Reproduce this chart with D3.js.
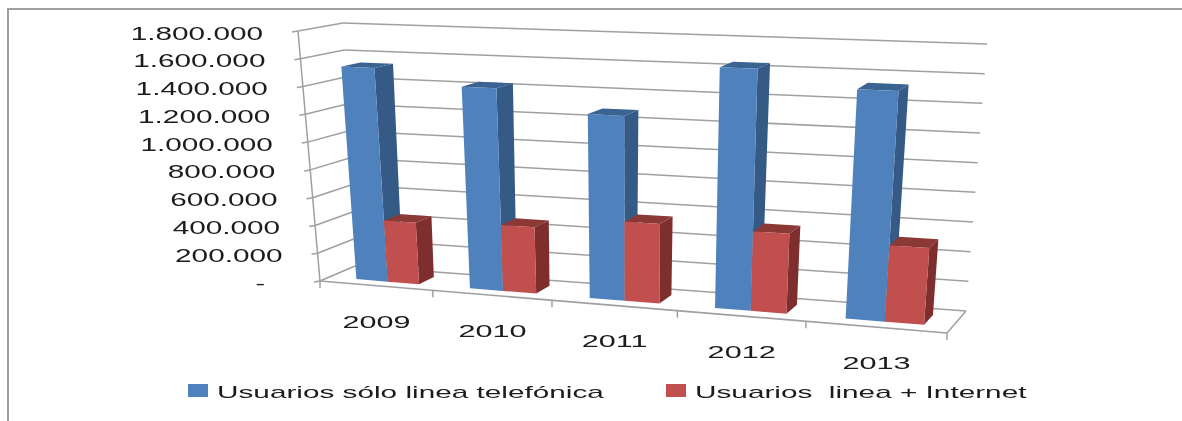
<!DOCTYPE html>
<html>
<head>
<meta charset="utf-8">
<script src="https://cdn.jsdelivr.net/npm/d3@7"></script>
<style>
  html, body { margin: 0; padding: 0; background: #fff; }
  svg { display: block; }
  text { font-family: "Liberation Sans", sans-serif; fill: #1a1a1a; white-space: pre; }
</style>
</head>
<body>
<div id="chart"></div>
<script>
// values
var years = ["2009", "2010", "2011", "2012", "2013"]
var soloLinea = [1535000, 1430000, 1280000, 1645000, 1537000]
var lineaInternet = [440000, 465000, 548000, 540000, 508000]
var yTicks = [0, 200000, 400000, 600000, 800000, 1000000, 1200000, 1400000, 1600000, 1800000]
var seriesNames = ["Usuarios sólo linea telefónica", "Usuarios  linea + Internet"]

var w = 1182
var h = 421

// 3d box of the plot, screen position of its corners [bottom, top]
var frontLeft = [[320, 281], [298, 31]]
var frontRight = [[947, 333], [967, 58]]
var backLeft = [[355, 266], [343, 23]]
var backRight = [[966, 311], [987, 44]]

var colors = [
    { front: "#4f81bd", side: "#355a85", top: "#3a6392" },
    { front: "#c0504d", side: "#7f2f2d", top: "#8c3836" }
]

var locale = d3.formatLocale({ decimal: ",", thousands: ".", grouping: [3], currency: ["", ""] })
var fmt = locale.format(",d")

var yScale = d3.scaleLinear().domain([0, 1800000]).range([0, 1])

// categories get wider towards the viewer
var xScale = d3.scaleLinear()
    .domain([0, 1, 2, 3, 4, 5])
    .range([0, 0.18, 0.37, 0.57, 0.775, 1])

var mix = d3.interpolateArray

function project(t, z, v) {
    var k = yScale(v)
    var fl = mix(frontLeft[0], frontLeft[1])(k)
    var fr = mix(frontRight[0], frontRight[1])(k)
    var bl = mix(backLeft[0], backLeft[1])(k)
    var br = mix(backRight[0], backRight[1])(k)
    return mix(mix(fl, fr)(t), mix(bl, br)(t))(z)
}

var svg = d3.select("#chart").append("svg")
    .attr("width", w)
    .attr("height", h)

var defs = svg.append("defs")
defs.append("filter").attr("id", "soft")
    .attr("x", "-5%").attr("y", "-5%").attr("width", "110%").attr("height", "110%")
    .append("feGaussianBlur").attr("stdDeviation", 0.7)
defs.append("filter").attr("id", "softText")
    .attr("x", "-5%").attr("y", "-5%").attr("width", "110%").attr("height", "110%")
    .append("feGaussianBlur").attr("stdDeviation", 0.35)

// outer frame, only top and left are visible
svg.append("path")
    .attr("d", d3.line()([[8, h], [8, 9], [w, 9]]))
    .attr("fill", "none")
    .attr("stroke", "#a0a0a0")
    .attr("stroke-width", 2)

var plot = svg.append("g").attr("filter", "url(#soft)")
var texts = svg.append("g").attr("filter", "url(#softText)")
var line = d3.line()

function seg(a, b, width) {
    plot.append("path")
        .attr("d", line([a, b]))
        .attr("fill", "none")
        .attr("stroke", "#a0a0a0")
        .attr("stroke-width", width || 1.5)
}

// grid on the two walls
yTicks.forEach(function (v) {
    var p = project(0, 0, v)
    seg([p[0] - 6, p[1] + 1], p)
    seg(p, project(0, 1, v))
    seg(project(0, 1, v), project(1, 1, v))
})
seg(project(0, 0, 0), project(0, 0, 1800000))
seg(project(0, 0, 0), project(1, 0, 0), 1.7)
seg(project(1, 0, 0), project(1, 1, 0))

// category ticks on the front edge
d3.range(years.length + 1).forEach(function (i) {
    var p = project(xScale(i), 0, 0)
    seg(p, [p[0], p[1] + 7])
})

// bars
var z0 = 0.27
var z1 = 0.72
var barStart = 0.24
var barStep = 0.28

function poly(pts, fill) {
    plot.append("path")
        .attr("d", line(pts) + "Z")
        .attr("fill", fill)
}

function bar(i, s, v) {
    var a = i + barStart + s * barStep
    var b = a + barStep
    var ta = xScale(a)
    var tb = xScale(b)
    var c = colors[s]
    poly([project(ta, z0, v), project(tb, z0, v), project(tb, z1, v), project(ta, z1, v)], c.top)
    poly([project(tb, z0, 0), project(tb, z1, 0), project(tb, z1, v), project(tb, z0, v)], c.side)
    poly([project(ta, z0, 0), project(tb, z0, 0), project(tb, z0, v), project(ta, z0, v)], c.front)
}

years.forEach(function (d, i) {
    bar(i, 0, soloLinea[i])
    bar(i, 1, lineaInternet[i])
})

// wide text like the stretched original
function label(x, y, str, anchor, size, sx) {
    return texts.append("text")
        .attr("transform", "translate(" + x + "," + y + ") scale(" + sx + ",1)")
        .attr("text-anchor", anchor)
        .attr("font-size", size)
        .text(str)
}

yTicks.forEach(function (v) {
    var p = project(0, 0, v)
    if (v === 0) {
        label(265, p[1] + 8, "-", "end", 17, 1.7)
    } else {
        label(p[0] - 35, p[1] + 8.5, fmt(v), "end", 17.5, 1.7)
    }
})

years.forEach(function (d, i) {
    var p = project(xScale(i + 0.5), 0, 0)
    label(p[0], p[1] + 42, d, "middle", 17, 1.8)
})

// legend
var legendX = [188, 666]
var legendText = [217, 695]
seriesNames.forEach(function (d, i) {
    svg.append("rect")
        .attr("x", legendX[i])
        .attr("y", 384)
        .attr("width", 20)
        .attr("height", 13)
        .attr("fill", colors[i].front)
    label(legendText[i], 398, d, "start", 17, 1.75)
})
</script>
</body>
</html>
